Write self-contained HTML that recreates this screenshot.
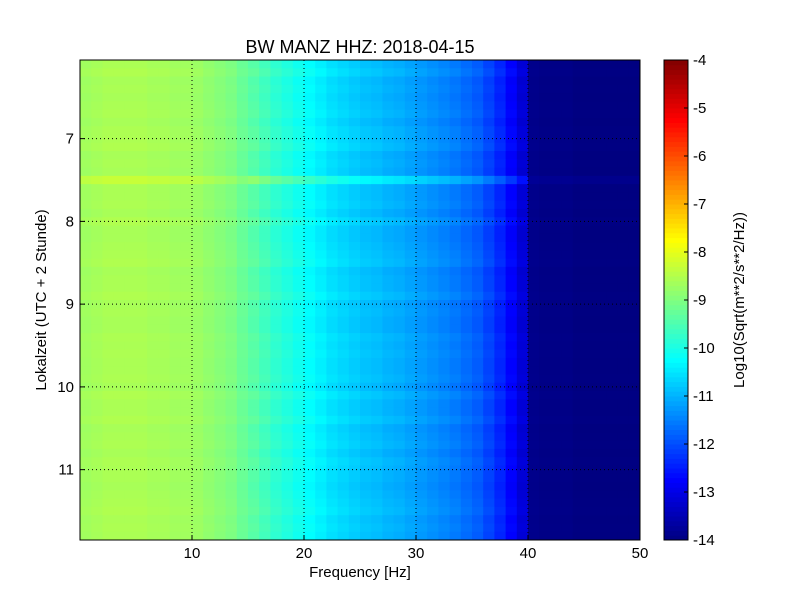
<!DOCTYPE html>
<html><head><meta charset="utf-8"><style>
body{margin:0;background:#fff;}
svg text{font-family:"Liberation Sans",sans-serif;}
</style></head><body>
<svg id="fig" width="800" height="600" xmlns="http://www.w3.org/2000/svg">
<rect width="800" height="600" fill="#fff"/>
<text x="360" y="53" font-size="18" text-anchor="middle">BW MANZ HHZ: 2018-04-15</text>
<g id="heat"></g>
<g id="grid"></g>
<rect x="80" y="60" width="560" height="480" fill="none" stroke="#000" stroke-width="1"/>
<g id="axes"></g>
<text x="360" y="577" font-size="15" text-anchor="middle">Frequency [Hz]</text>
<text transform="translate(46,300) rotate(-90)" font-size="15" text-anchor="middle">Lokalzeit (UTC + 2 Stunde)</text>
<g id="cbar"></g>
<text transform="translate(744,300) rotate(-90)" font-size="15" text-anchor="middle">Log10(Sqrt(m**2/s**2/Hz))</text>
</svg>
<script>
// data
const freqBins = [0,1,2,3,4,5,6,7,8,9,10,11,12,13,14,15,16,17,18,19,20,21,22,23,24,25,26,27,28,29,30,31,32,33,34,35,36,37,38,39,40,41,42,43,44,45,46,47,48,49];
const freqProfile = [-8.7,-8.65,-8.6,-8.6,-8.6,-8.6,-8.65,-8.65,-8.7,-8.7,-8.75,-8.85,-8.95,-9.05,-9.25,-9.45,-9.65,-9.85,-10.0,-10.15,-10.3,-10.45,-10.6,-10.7,-10.8,-10.9,-10.95,-11.05,-11.1,-11.2,-11.3,-11.4,-11.5,-11.6,-11.75,-11.9,-12.15,-12.45,-12.8,-13.2,-13.9,-13.95,-13.95,-13.95,-14.0,-14.0,-14.0,-14.0,-14.0,-14.0];
const timeStart = 6.05, timeStep = 0.1;
const rowOffset = [0.05,0.15,0,0.05,0,0.05,0.1,0,0.1,0.1,0.15,0,0.05,0,0.6,0.05,0.05,0.1,0,0.15,0,0,0.05,0.1,0.15,0,0.05,0.05,0.15,0,0.05,0,0,0.1,0.05,0.1,0.05,0.05,0.1,0,0.15,0.05,0.05,0.15,0,0.05,0.1,0,0.1,0.05,0.05,0,0.05,0.1,0.15,0.05,0.1,0.05];
const xTicks = [10,20,30,40,50];
const yTicks = [7,8,9,10,11];
const cTicks = [-4,-5,-6,-7,-8,-9,-10,-11,-12,-13,-14];
const vmin=-14, vmax=-4, fmin=0, fmax=50, tmin=6.05, tmax=11.85;
const X=f=>80+(f-fmin)/(fmax-fmin)*560;
const Y=t=>60+(t-tmin)/(tmax-tmin)*480;
const C=v=>540-(v-vmin)/(vmax-vmin)*480;
function jet(v){let t=Math.max(0,Math.min(1,(v-vmin)/(vmax-vmin)));const c=x=>Math.round(255*Math.max(0,Math.min(1,x)));
return `rgb(${c(1.5-Math.abs(4*t-3))},${c(1.5-Math.abs(4*t-2))},${c(1.5-Math.abs(4*t-1))})`;}
const NS="http://www.w3.org/2000/svg";
function mk(tag,attrs,parent){const e=document.createElementNS(NS,tag);for(const k in attrs)e.setAttribute(k,attrs[k]);parent.appendChild(e);return e;}
const heat=document.getElementById('heat');
rowOffset.forEach((ro,ti)=>{
  const t0=timeStart+ti*timeStep, y0=Y(t0), y1=Y(t0+timeStep);
  freqBins.forEach((f,fi)=>{
    let v=freqProfile[fi];
    if(v>-13.8) v+=ro*(f<15?0.5:1); else v+=ro*0.2;
    const r=mk('rect',{x:X(f),y:y0,width:X(f+1)-X(f)+0.5,height:y1-y0+0.5,fill:jet(v)},heat);
    
    
  });
});
const grid=document.getElementById('grid'), axes=document.getElementById('axes');
xTicks.forEach(f=>{
  if(f<50){const l=mk('line',{x1:X(f),x2:X(f),y1:60,y2:540,stroke:'#000','stroke-dasharray':'1,3'},grid);
  }
  mk('line',{x1:X(f),x2:X(f),y1:540,y2:535,stroke:'#000'},axes);
  const t=mk('text',{x:X(f),y:558,'font-size':15,'text-anchor':'middle'},axes);t.textContent=f;
  
});
yTicks.forEach(h=>{
  const l=mk('line',{x1:80,x2:640,y1:Y(h),y2:Y(h),stroke:'#000','stroke-dasharray':'1,3'},grid);
  
  mk('line',{x1:80,x2:85,y1:Y(h),y2:Y(h),stroke:'#000'},axes);
  const t=mk('text',{x:74,y:Y(h)+5,'font-size':15,'text-anchor':'end'},axes);t.textContent=h;
  
});
const cb=document.getElementById('cbar');
for(let i=0;i<100;i++){const v0=vmin+i*(vmax-vmin)/100,v1=vmin+(i+1)*(vmax-vmin)/100;
  const r=mk('rect',{x:664,y:C(v1),width:24,height:C(v0)-C(v1)+0.5,fill:jet((v0+v1)/2)},cb);
  }
mk('rect',{x:664,y:60,width:24,height:480,fill:'none',stroke:'#000'},cb);
cTicks.forEach(v=>{
  mk('line',{x1:684,x2:688,y1:C(v),y2:C(v),stroke:'#000'},cb);
  const t=mk('text',{x:693,y:C(v)+5,'font-size':15},cb);t.textContent=v;
  
});
</script>
</body></html>
